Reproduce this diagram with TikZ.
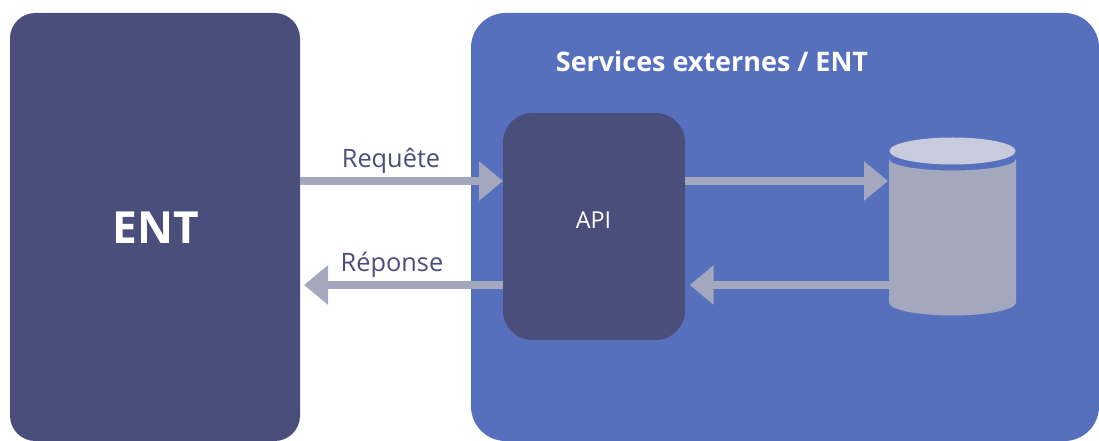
\documentclass[tikz,border=0pt]{standalone}
\usepackage{fontspec}
\setmainfont{Open Sans}
\usetikzlibrary{arrows.meta}
\definecolor{navy}{HTML}{4A4E7B}
\definecolor{blueback}{HTML}{5670BD}
\definecolor{pale}{HTML}{A3A8BF}
\definecolor{capcolor}{HTML}{C7CBDC}
\tikzset{
  panel/.style={fill=#1,draw=none,inner sep=0pt,outer sep=0pt},
  flow/.style={draw=pale,line width=6pt,-{Triangle[length=18pt,width=28.5pt]}},
  lbl/.style={text=navy,inner sep=0pt,font=\fontsize{19}{22}\selectfont},
}
\begin{document}
\begin{tikzpicture}[x=0.75pt,y=-0.75pt]
\useasboundingbox (0,0) rectangle (1099,441);
\node[panel=navy,rounded corners=19pt,minimum width=217.5pt,minimum height=321pt,anchor=north west] (ent) at (10,13) {};
\node[text=white,font=\bfseries\fontsize{33.2}{36}\selectfont,inner sep=0pt] (entlabel) at (155.5,228) {ENT};
\node[panel=blueback,rounded corners=26pt,minimum width=471pt,minimum height=321pt,anchor=north west] (ext) at (471,13) {};
\node[text=white,font=\bfseries\fontsize{20.2}{24}\selectfont,inner sep=0pt] (title) at (712,61.5) {Services externes / ENT};
\node[panel=navy,rounded corners=22pt,minimum width=136.5pt,minimum height=170.25pt,anchor=north west] (api) at (503,113) {};
\node[text=white,font=\fontsize{17.5}{20}\selectfont,inner sep=0pt] (apilabel) at (593.5,220) {API};
% database
\node[inner sep=0pt,outer sep=0pt,minimum width=95.25pt,minimum height=133.5pt,anchor=north west] (db) at (889,137.5) {};
\fill[pale] (889,159) -- (889,302.5) arc[x radius=63.5,y radius=13,start angle=180,end angle=0]
  -- (1016,159) arc[x radius=63.5,y radius=11.5,start angle=0,end angle=180] -- cycle;
\fill[capcolor] (952.5,151) ellipse[x radius=63,y radius=13.5];
\coordinate (upper) at (0,181);
\coordinate (lower) at (0,285);
\draw[flow] (ent.east |- upper) -- (api.west |- upper);
\draw[flow] (api.west |- lower) -- ([xshift=3pt]ent.east |- lower);
\draw[flow] (api.east |- upper) -- ([xshift=-0.75pt]db.west |- upper);
\draw[flow] (db.west |- lower) -- ([xshift=3.5pt]api.east |- lower);
\node[lbl] (req) at (391,160.5) {Requête};
\node[lbl] (rep) at (392,264.5) {Réponse};
\end{tikzpicture}
\end{document}
